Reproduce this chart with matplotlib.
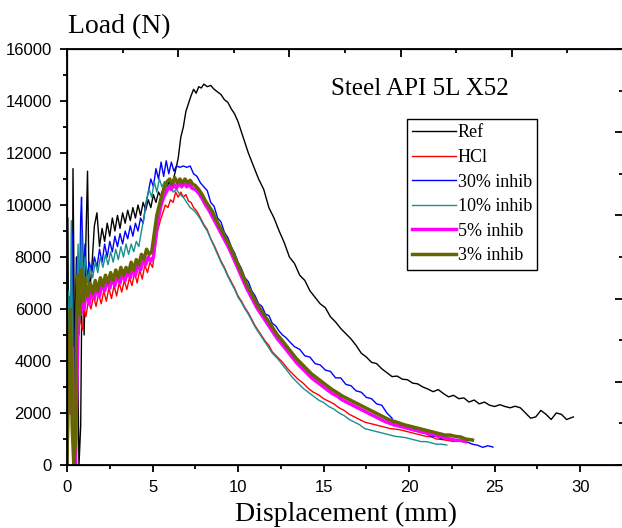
import numpy as np
import matplotlib
matplotlib.use('Agg')
import matplotlib.pyplot as plt
from matplotlib.ticker import MultipleLocator

# ---- data (displacement in mm, load in N) ----
ref_x = [0, 0.05, 0.1, 0.2, 0.3, 0.35, 0.45, 0.55, 0.7, 0.8, 0.9, 1.0, 1.1, 1.2, 1.3, 1.45, 1.6, 1.75,
         1.9, 2.05, 2.2, 2.35, 2.5, 2.65, 2.8, 2.95, 3.1, 3.25, 3.4, 3.55, 3.7, 3.85, 4.0, 4.15, 4.3, 4.45,
         4.6, 4.75, 4.9, 5.05, 5.2, 5.35, 5.5, 5.65, 5.8, 5.95, 6.1, 6.3, 6.5, 6.65, 6.8, 6.95, 7.1, 7.25,
         7.4, 7.55, 7.7, 7.85, 8.0, 8.2, 8.4, 8.6, 8.8, 9.0, 9.2, 9.4, 9.6, 9.8, 10.0, 10.3, 10.6, 10.9,
         11.2, 11.5, 11.8, 12.1, 12.4, 12.7, 13.0, 13.3, 13.6, 13.9, 14.2, 14.5, 14.8, 15.1, 15.4, 15.7,
         16.0, 16.3, 16.6, 16.9, 17.2, 17.5, 17.8, 18.1, 18.4, 18.7, 19.0, 19.3, 19.6, 19.9, 20.2, 20.5,
         20.8, 21.1, 21.4, 21.7, 22.0, 22.3, 22.6, 22.9, 23.2, 23.5, 23.8, 24.1, 24.4, 24.7, 25.0, 25.3,
         25.6, 25.9, 26.2, 26.5, 26.8, 27.1, 27.4, 27.7, 28.0, 28.3, 28.6, 28.9, 29.2, 29.6]
ref_y = [0, 9500, 3000, 5500, 2000, 11400, 4000, 8000, 0, 1500, 9000, 5000, 8500, 11300, 6500, 7600, 9200, 9700,
         8400, 9100, 8600, 9300, 8800, 9500, 9000, 9600, 9100, 9700, 9300, 9800, 9400, 9900, 9500, 10000, 9600, 10100,
         9800, 10200, 9900, 10400, 10100, 10500, 10300, 10700, 10500, 10900, 10700, 11200, 11800, 12600, 13000, 13600, 13900, 14200,
         14450, 14300, 14550, 14500, 14650, 14550, 14600, 14450, 14350, 14250, 14050, 13950, 13700, 13500, 13200, 12600, 12000, 11500,
         11000, 10600, 9900, 9500, 9000, 8550, 8000, 7750, 7300, 7100, 6700, 6450, 6200, 6050, 5700, 5500,
         5250, 5050, 4850, 4600, 4300, 4150, 3950, 3900, 3700, 3550, 3400, 3420, 3300, 3280, 3150, 3120,
         3000, 2920, 2820, 2900, 2750, 2620, 2680, 2550, 2580, 2420, 2500, 2350, 2420, 2300, 2250, 2320,
         2250, 2200, 2260, 2200, 2000, 1800, 1850, 2100, 1950, 1750, 2000, 1950, 1750, 1850]

hcl_x = [0, 0.05, 0.1, 0.15, 0.2, 0.3, 0.4, 0.5, 0.6, 0.7, 0.8, 0.9, 1.0, 1.1, 1.25, 1.4, 1.55, 1.7, 1.85,
         2.0, 2.15, 2.3, 2.45, 2.6, 2.75, 2.9, 3.05, 3.2, 3.35, 3.5, 3.65, 3.8, 3.95, 4.1, 4.25, 4.4, 4.55,
         4.7, 4.85, 5.0, 5.15, 5.3, 5.45, 5.6, 5.75, 5.9, 6.05, 6.2, 6.35, 6.5, 6.65, 6.8, 6.95, 7.1, 7.25,
         7.4, 7.6, 7.8, 8.0, 8.2, 8.4, 8.6, 8.8, 9.0, 9.2, 9.4, 9.6, 9.8, 10.0, 10.2, 10.4, 10.6, 10.8,
         11.0, 11.2, 11.4, 11.6, 11.8, 12.0, 12.3, 12.6, 12.9, 13.2, 13.5, 13.8, 14.1, 14.4, 14.7, 15.0,
         15.3, 15.6, 15.9, 16.2, 16.5, 16.8, 17.1, 17.4, 17.7, 18.0, 18.3, 18.6, 18.9, 19.2, 19.5, 19.8,
         20.1, 20.4, 20.7, 21.0, 21.3, 21.6, 21.9, 22.2, 22.6, 23.0]
hcl_y = [0, 3500, 4200, 2000, 3000, 1500, 0, 800, 4000, 6300, 5500, 5200, 6000, 5700, 6300, 6000, 6500, 6100, 6600,
         6200, 6700, 6300, 6800, 6400, 6900, 6500, 7000, 6650, 7100, 6750, 7200, 6900, 7400, 7000, 7500, 7150, 7700,
         7400, 7800, 7600, 8300, 9000, 9400, 9700, 10000, 9900, 10200, 10100, 10500, 10300, 10500, 10300, 10400, 10150, 10100,
         9900, 9750, 9500, 9250, 9050, 8700, 8450, 8150, 7850, 7600, 7300, 7050, 6800, 6500, 6300, 6050, 5850, 5600,
         5350, 5150, 4950, 4750, 4600, 4350, 4150, 3950, 3700, 3500, 3300, 3150, 2950, 2800, 2700, 2550,
         2450, 2350, 2200, 2100, 1950, 1850, 1750, 1650, 1600, 1550, 1500, 1450, 1400, 1380, 1350, 1300,
         1250, 1200, 1150, 1100, 1080, 1000, 980, 950, 900, 950]

inh30_x = [0, 0.05, 0.1, 0.15, 0.2, 0.3, 0.4, 0.5, 0.6, 0.7, 0.8, 0.85, 0.95, 1.05, 1.15, 1.3, 1.45, 1.6, 1.75,
           1.9, 2.05, 2.2, 2.35, 2.5, 2.65, 2.8, 2.95, 3.1, 3.25, 3.4, 3.55, 3.7, 3.85, 4.0, 4.15, 4.3, 4.45,
           4.6, 4.75, 4.9, 5.05, 5.2, 5.35, 5.5, 5.65, 5.8, 5.95, 6.1, 6.25, 6.4, 6.6, 6.8, 7.0, 7.2, 7.4,
           7.6, 7.8, 8.0, 8.2, 8.4, 8.6, 8.8, 9.0, 9.2, 9.4, 9.6, 9.8, 10.0, 10.2, 10.4, 10.6, 10.8, 11.0,
           11.2, 11.4, 11.6, 11.8, 12.0, 12.2, 12.4, 12.6, 12.8, 13.0, 13.3, 13.6, 13.9, 14.2, 14.5, 14.8,
           15.1, 15.4, 15.7, 16.0, 16.3, 16.6, 16.9, 17.2, 17.5, 17.8, 18.1, 18.4, 18.7, 19.0, 19.1, 19.2,
           19.5, 19.8, 20.1, 20.4, 20.7, 21.0, 21.3, 21.6, 21.9, 22.2, 22.5, 22.8, 23.1, 23.4, 23.7, 24.0,
           24.3, 24.6, 24.9]
inh30_y = [0, 5000, 6500, 2000, 4500, 9000, 2000, 6000, 8000, 5000, 9500, 10300, 7000, 8500, 7200, 7800, 7400, 8000, 7600,
           8300, 7800, 8500, 8000, 8600, 8200, 8800, 8400, 8900, 8500, 9000, 8700, 9200, 8800, 9300, 9000, 9500, 9300,
           10000, 10500, 11000, 10700, 11400, 11000, 11650, 11100, 11700, 11200, 11650, 11300, 11500, 11450, 11500, 11450, 11500, 11200,
           11100, 10850, 10700, 10550, 10100, 9950, 9500, 9350, 8950, 8750, 8400, 8150, 7800, 7550, 7200, 7050, 6700, 6500,
           6200, 6100, 5800, 5750, 5450, 5350, 5150, 5000, 4900, 4750, 4550, 4450, 4200, 4150, 3900, 3850,
           3650, 3600, 3350, 3350, 3100, 3050, 2850, 2800, 2600, 2550, 2350, 2300, 2000, 1800, 1500, 1700,
           1500, 1450, 1350, 1300, 1250, 1200, 1100, 1100, 1000, 1020, 950, 980, 900, 880, 800, 760,
           680, 740, 690]

inh10_x = [0, 0.05, 0.1, 0.15, 0.2, 0.25, 0.35, 0.45, 0.55, 0.65, 0.75, 0.85, 0.95, 1.05, 1.2, 1.35, 1.5, 1.65,
           1.8, 1.95, 2.1, 2.25, 2.4, 2.55, 2.7, 2.85, 3.0, 3.15, 3.3, 3.45, 3.6, 3.75, 3.9, 4.05, 4.2, 4.35,
           4.5, 4.65, 4.8, 4.95, 5.1, 5.25, 5.4, 5.55, 5.7, 5.85, 6.0, 6.2, 6.4, 6.6, 6.8, 7.0, 7.2, 7.4,
           7.6, 7.8, 8.0, 8.2, 8.4, 8.6, 8.8, 9.0, 9.2, 9.4, 9.6, 9.8, 10.0, 10.2, 10.4, 10.6, 10.8, 11.0,
           11.2, 11.4, 11.6, 11.8, 12.0, 12.3, 12.6, 12.9, 13.2, 13.5, 13.8, 14.1, 14.4, 14.7, 15.0, 15.3,
           15.6, 15.9, 16.2, 16.5, 16.8, 17.1, 17.4, 17.7, 18.0, 18.3, 18.6, 18.9, 19.2, 19.5, 19.8, 20.1,
           20.4, 20.7, 21.0, 21.3, 21.6, 21.9, 22.2]
inh10_y = [0, 4000, 6700, 2500, 5000, 9400, 3000, 1000, 6000, 8500, 5500, 9000, 7000, 8000, 7000, 7600, 7200, 7800,
           7400, 8000, 7600, 8100, 7700, 8200, 7800, 8300, 7900, 8400, 8000, 8500, 8100, 8500, 8200, 8600, 8400, 9000,
           9500, 10200, 10600, 10300, 10900, 10500, 11000, 10700, 10900, 10600, 10800, 10500, 10600, 10400, 10300, 10100, 9900, 9800,
           9650, 9450, 9200, 9000, 8700, 8400, 8100, 7800, 7550, 7250, 7000, 6750, 6450, 6250, 6000, 5800, 5550, 5300,
           5100, 4900, 4700, 4500, 4300, 4100, 3850, 3600, 3350, 3150, 2950, 2800, 2650, 2500, 2400, 2250,
           2150, 2000, 1900, 1750, 1650, 1550, 1400, 1350, 1300, 1250, 1200, 1150, 1100, 1080, 1050, 1000,
           950, 900, 900, 850, 800, 800, 770]

inh5_x = [0, 0.05, 0.1, 0.2, 0.3, 0.4, 0.5, 0.6, 0.7, 0.8, 0.9, 1.0, 1.15, 1.3, 1.45, 1.6, 1.75, 1.9, 2.05,
          2.2, 2.35, 2.5, 2.65, 2.8, 2.95, 3.1, 3.25, 3.4, 3.55, 3.7, 3.85, 4.0, 4.15, 4.3, 4.45, 4.6, 4.75,
          4.9, 5.05, 5.2, 5.35, 5.5, 5.65, 5.8, 5.95, 6.1, 6.25, 6.4, 6.55, 6.7, 6.85, 7.0, 7.15, 7.3, 7.5,
          7.7, 7.9, 8.1, 8.3, 8.5, 8.7, 8.9, 9.1, 9.3, 9.5, 9.7, 9.9, 10.1, 10.3, 10.5, 10.7, 10.9, 11.1,
          11.3, 11.5, 11.7, 11.9, 12.1, 12.3, 12.5, 12.8, 13.1, 13.4, 13.7, 14.0, 14.3, 14.6, 14.9, 15.2,
          15.5, 15.8, 16.1, 16.4, 16.7, 17.0, 17.3, 17.6, 17.9, 18.2, 18.5, 18.8, 19.1, 19.4, 19.7, 20.0,
          20.3, 20.6, 20.9, 21.2, 21.5, 21.8, 22.1, 22.4, 22.7, 23.0, 23.3]
inh5_y = [0, 3000, 5000, 2000, 4500, 1000, 0, 4000, 6800, 5800, 7000, 6000, 6800, 6200, 6800, 6400, 6900, 6500, 7000,
          6700, 7100, 6800, 7200, 6900, 7300, 7000, 7400, 7100, 7500, 7200, 7600, 7300, 7700, 7500, 7900, 7700, 8000,
          7850, 8000, 8900, 9500, 10000, 10300, 10500, 10700, 10600, 10800, 10650, 10850, 10700, 10850, 10700, 10800, 10650, 10600,
          10450, 10250, 10000, 9800, 9550, 9300, 9050, 8800, 8550, 8300, 8000, 7700, 7400, 7100, 6800, 6550, 6300, 6050,
          5850, 5650, 5450, 5250, 5050, 4850, 4700, 4450, 4200, 3950, 3750, 3550, 3350, 3200, 3050, 2900,
          2750, 2650, 2500, 2400, 2300, 2200, 2100, 2000, 1900, 1800, 1700, 1620, 1550, 1500, 1450, 1400,
          1350, 1300, 1250, 1200, 1150, 1100, 1050, 1000, 950, 950, 900]

inh3_x = [0, 0.05, 0.1, 0.15, 0.2, 0.25, 0.3, 0.4, 0.5, 0.55, 0.65, 0.75, 0.85, 0.95, 1.05, 1.2, 1.35, 1.5, 1.65,
          1.8, 1.95, 2.1, 2.25, 2.4, 2.55, 2.7, 2.85, 3.0, 3.15, 3.3, 3.45, 3.6, 3.75, 3.9, 4.05, 4.2, 4.35,
          4.5, 4.65, 4.8, 4.95, 5.1, 5.25, 5.4, 5.55, 5.7, 5.85, 6.0, 6.15, 6.3, 6.45, 6.6, 6.75, 6.9, 7.05,
          7.2, 7.35, 7.5, 7.7, 7.9, 8.1, 8.3, 8.5, 8.7, 8.9, 9.1, 9.3, 9.5, 9.7, 9.9, 10.1, 10.3, 10.5,
          10.7, 10.9, 11.1, 11.3, 11.5, 11.7, 11.9, 12.1, 12.3, 12.5, 12.8, 13.1, 13.4, 13.7, 14.0, 14.3,
          14.6, 14.9, 15.2, 15.5, 15.8, 16.1, 16.4, 16.7, 17.0, 17.3, 17.6, 17.9, 18.2, 18.5, 18.8, 19.1,
          19.4, 19.7, 20.0, 20.3, 20.6, 20.9, 21.2, 21.5, 21.8, 22.1, 22.4, 22.7, 23.0, 23.3, 23.7]
inh3_y = [0, 2000, 5300, 3000, 6000, 4000, 1500, 0, 1000, 5000, 7300, 5800, 7500, 6300, 7200, 6500, 7000, 6600, 7100,
          6700, 7200, 6900, 7300, 7000, 7400, 7100, 7500, 7200, 7600, 7300, 7600, 7400, 7800, 7500, 7900, 7700, 8100,
          7900, 8300, 8100, 8200, 8900, 9600, 10000, 10400, 10700, 10900, 11000, 10800, 11050, 10850, 11000, 10850, 11000, 10850,
          10950, 10800, 10750, 10600, 10400, 10150, 9950, 9750, 9450, 9200, 8950, 8700, 8450, 8150, 7850, 7550, 7250, 6950,
          6700, 6450, 6200, 6000, 5800, 5600, 5400, 5200, 5000, 4850, 4600, 4350, 4100, 3900, 3700, 3500,
          3350, 3200, 3050, 2900, 2780, 2650, 2550, 2450, 2350, 2250, 2150, 2050, 1950, 1850, 1750, 1680,
          1620, 1550, 1500, 1450, 1400, 1350, 1300, 1250, 1200, 1150, 1150, 1100, 1080, 1000, 960]

series = [
    ('Ref', ref_x, ref_y, 'black', 1.0),
    ('HCl', hcl_x, hcl_y, '#ff0000', 1.0),
    ('30% inhib', inh30_x, inh30_y, '#0000ff', 1.0),
    ('10% inhib', inh10_x, inh10_y, '#1a8f8f', 1.0),
    ('5% inhib', inh5_x, inh5_y, '#ff00ff', 2.5),
    ('3% inhib', inh3_x, inh3_y, '#666600', 2.5),
]

serif = 'Liberation Serif'
sans = 'Liberation Sans'

fig = plt.figure(figsize=(6.22, 5.28), dpi=100)
ax = fig.add_axes([67/622, 63/528, 556/622, 416/528])

for name, x, y, col, lw in series:
    ax.plot(x, y, color=col, linewidth=lw, label=name)

ax.set_xlim(0, 32.5)
ax.set_ylim(0, 16000)
ax.xaxis.set_major_locator(MultipleLocator(5))
ax.xaxis.set_minor_locator(MultipleLocator(2.5))
ax.yaxis.set_major_locator(MultipleLocator(2000))
ax.yaxis.set_minor_locator(MultipleLocator(1000))
ax.tick_params(which='both', direction='out', width=1.3, top=False, right=False)
ax.tick_params(which='major', length=5, pad=6)
ax.tick_params(which='minor', length=3)
for lab in ax.get_xticklabels() + ax.get_yticklabels():
    lab.set_fontfamily(sans)
    lab.set_fontsize(12)
for s in ax.spines.values():
    s.set_linewidth(1.3)

# second layer frame: ticks on top and right, no labels
axt = ax.twiny()
axt.set_xlim(0, 10)
axt.xaxis.set_major_locator(MultipleLocator(2))
axt.xaxis.set_minor_locator(MultipleLocator(1))
axt.tick_params(which='both', direction='in', width=1.3, labeltop=False)
axt.tick_params(which='major', length=6)
axt.tick_params(which='minor', length=3)
axr = ax.twinx()
axr.set_ylim(0, 10)
axr.yaxis.set_major_locator(MultipleLocator(2))
axr.yaxis.set_minor_locator(MultipleLocator(1))
axr.tick_params(which='both', direction='in', width=1.3, labelright=False)
axr.tick_params(which='major', length=6)
axr.tick_params(which='minor', length=3)

ax.text(0.635, 0.905, 'Steel API 5L X52', transform=ax.transAxes, ha='center', va='center',
        fontfamily=serif, fontsize=18)
fig.text(68/622, 1 - 27/528, 'Load (N)', ha='left', va='center', fontfamily=serif, fontsize=20)
fig.text(346/622, 1 - 521/528, 'Displacement (mm)', ha='center', va='baseline', fontfamily=serif, fontsize=20)

leg = ax.legend(loc='upper left', bbox_to_anchor=((407-67)/556, (465-119)/416), borderaxespad=0,
                prop={'family': serif, 'size': 13}, handlelength=2.4, handletextpad=0.1,
                labelspacing=0.42, borderpad=0.3, fancybox=False, framealpha=1)
leg.get_frame().set_edgecolor('black')
leg.get_frame().set_linewidth(1.0)
leg.set_zorder(5)

plt.savefig('out.png', dpi=100)
